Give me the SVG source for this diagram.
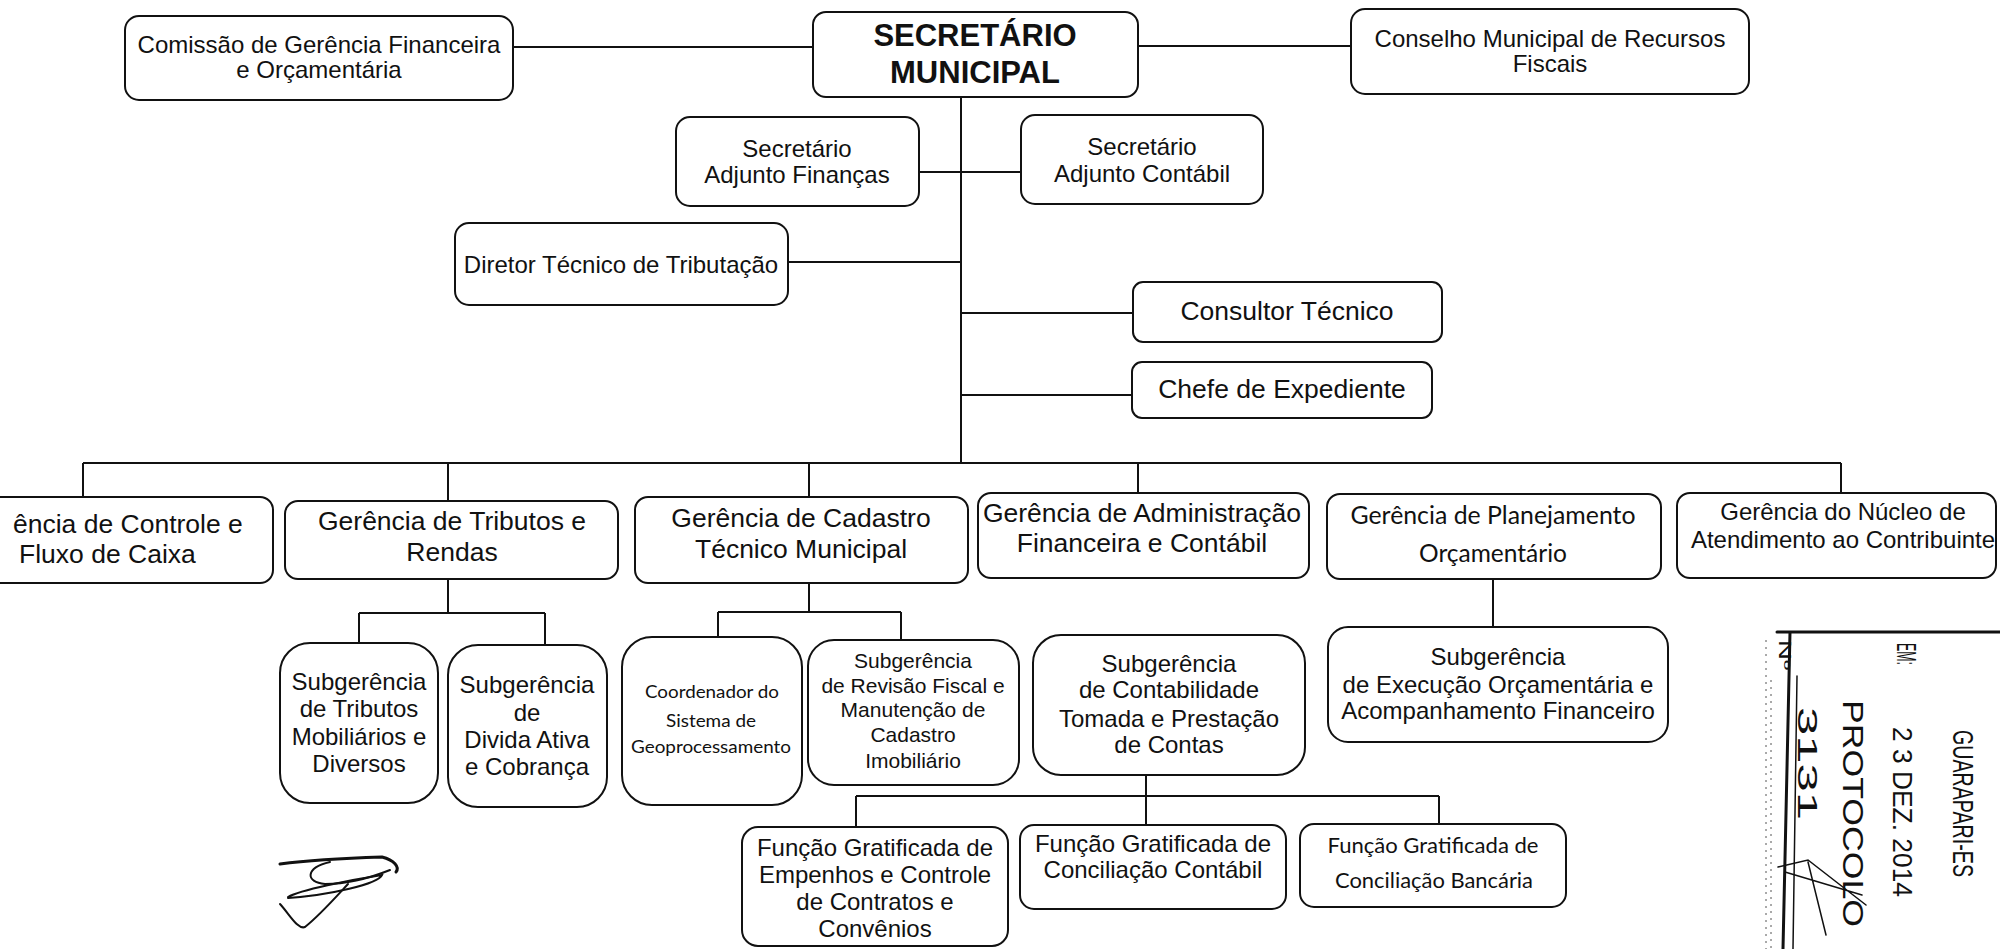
<svg xmlns="http://www.w3.org/2000/svg" width="2000" height="949" viewBox="0 0 2000 949">
<style>
.box{fill:#fff;stroke:#111;stroke-width:2}
.conn{stroke:#111;stroke-width:2;fill:none}
.t{font-family:"Liberation Sans",Arial,sans-serif;font-size:24px;fill:#111;text-anchor:middle}
.g{font-size:26.5px}
.s{font-size:21px}
.b{font-weight:bold;font-size:31px}
.c{font-family:Lato,"Open Sans",sans-serif}
.st{font-family:"Liberation Sans",Arial,sans-serif;fill:#111}
.ink{fill:none;stroke:#111;stroke-linecap:round}
</style>
<rect width="2000" height="949" fill="#fff"/>
<g id="connectors">
<path class="conn" d="M513,47H813 M1138,46H1351"/>
<path class="conn" d="M961,97V463"/>
<path class="conn" d="M919,172H1021 M788,262H961 M961,313H1133 M961,395H1132"/>
<path class="conn" d="M83,463H1841 M83,463V497 M448,463V501 M809,463V497 M1138,463V493 M1841,463V493"/>
<path class="conn" d="M448,579V613 M359,613H545 M359,613V643 M545,613V645"/>
<path class="conn" d="M809,583V612 M718,612H901 M718,612V637 M901,612V640"/>
<path class="conn" d="M1146,775V825 M856,796H1439 M856,796V827 M1439,796V824"/>
<path class="conn" d="M1493,579V627"/>
</g>
<g id="comissao"><rect class="box" x="125" y="16" width="388" height="84" rx="14"/>
<text class="t" x="319" y="53">Comissão de Gerência Financeira</text><text class="t" x="319" y="78">e Orçamentária</text></g>
<g id="secretario"><rect class="box" x="813" y="12" width="325" height="85" rx="13"/>
<text class="t b" x="975" y="46">SECRETÁRIO</text><text class="t b" x="975" y="83">MUNICIPAL</text></g>
<g id="conselho"><rect class="box" x="1351" y="9" width="398" height="85" rx="14"/>
<text class="t" x="1550" y="47">Conselho Municipal de Recursos</text><text class="t" x="1550" y="72">Fiscais</text></g>
<g id="adj-financas"><rect class="box" x="676" y="117" width="243" height="89" rx="14"/>
<text class="t" x="797" y="157">Secretário</text><text class="t" x="797" y="183">Adjunto Finanças</text></g>
<g id="adj-contabil"><rect class="box" x="1021" y="115" width="242" height="89" rx="14"/>
<text class="t" x="1142" y="155">Secretário</text><text class="t" x="1142" y="182">Adjunto Contábil</text></g>
<g id="diretor"><rect class="box" x="455" y="223" width="333" height="82" rx="14"/>
<text class="t" x="621" y="273">Diretor Técnico de Tributação</text></g>
<g id="consultor"><rect class="box" x="1133" y="282" width="309" height="60" rx="10"/>
<text class="t g" x="1287" y="320">Consultor Técnico</text></g>
<g id="chefe"><rect class="box" x="1132" y="362" width="300" height="56" rx="10"/>
<text class="t g" x="1282" y="398">Chefe de Expediente</text></g>
<g id="ger-controle"><rect class="box" x="-59" y="497" width="332" height="86" rx="13"/>
<text class="t g" x="13" y="533" style="text-anchor:start">ência de Controle e</text><text class="t g" x="19" y="563" style="text-anchor:start">Fluxo de Caixa</text></g>
<g id="ger-tributos"><rect class="box" x="285" y="501" width="333" height="78" rx="13"/>
<text class="t g" x="452" y="530">Gerência de Tributos e</text><text class="t g" x="452" y="561">Rendas</text></g>
<g id="ger-cadastro"><rect class="box" x="635" y="497" width="333" height="86" rx="13"/>
<text class="t g" x="801" y="527">Gerência de Cadastro</text><text class="t g" x="801" y="558">Técnico Municipal</text></g>
<g id="ger-admin"><rect class="box" x="978" y="493" width="331" height="85" rx="13"/>
<text class="t g" x="1142" y="522">Gerência de Administração</text><text class="t g" x="1142" y="552">Financeira e Contábil</text></g>
<g id="ger-planejamento"><rect class="box" x="1327" y="494" width="334" height="85" rx="13"/>
<text class="t c" style="font-size:25px" x="1493" y="524" textLength="285" lengthAdjust="spacingAndGlyphs">Gerência de Planejamento</text><text class="t c" style="font-size:25px" x="1493" y="562" textLength="148" lengthAdjust="spacingAndGlyphs">Orçamentário</text></g>
<g id="ger-nucleo"><rect class="box" x="1677" y="493" width="319" height="85" rx="13"/>
<text class="t" x="1843" y="520">Gerência do Núcleo de</text><text class="t" x="1843" y="548">Atendimento ao Contribuinte</text></g>
<g id="sub-tributos"><rect class="box" x="280" y="643" width="158" height="160" rx="30"/>
<text class="t" x="359" y="690">Subgerência</text><text class="t" x="359" y="717">de Tributos</text><text class="t" x="359" y="745">Mobiliários e</text><text class="t" x="359" y="772">Diversos</text></g>
<g id="sub-divida"><rect class="box" x="448" y="645" width="159" height="162" rx="30"/>
<text class="t" x="527" y="693">Subgerência</text><text class="t" x="527" y="721">de</text><text class="t" x="527" y="748">Divida Ativa</text><text class="t" x="527" y="775">e Cobrança</text></g>
<g id="coordenador"><rect class="box" x="622" y="637" width="180" height="168" rx="30"/>
<text class="t c" style="font-size:18px" x="712" y="698" textLength="134" lengthAdjust="spacingAndGlyphs">Coordenador do</text><text class="t c" style="font-size:18px" x="711" y="727" textLength="90" lengthAdjust="spacingAndGlyphs">Sistema de</text><text class="t c" style="font-size:18px" x="711" y="753" textLength="160" lengthAdjust="spacingAndGlyphs">Geoprocessamento</text></g>
<g id="sub-revisao"><rect class="box" x="808" y="640" width="211" height="145" rx="26"/>
<text class="t s" x="913" y="668">Subgerência</text><text class="t s" x="913" y="693">de Revisão Fiscal e</text><text class="t s" x="913" y="717">Manutenção de</text><text class="t s" x="913" y="742">Cadastro</text><text class="t s" x="913" y="768">Imobiliário</text></g>
<g id="sub-contabilidade"><rect class="box" x="1033" y="635" width="272" height="140" rx="28"/>
<text class="t" x="1169" y="672">Subgerência</text><text class="t" x="1169" y="698">de Contabilidade</text><text class="t" x="1169" y="727">Tomada e Prestação</text><text class="t" x="1169" y="753">de Contas</text></g>
<g id="sub-execucao"><rect class="box" x="1328" y="627" width="340" height="115" rx="20"/>
<text class="t" x="1498" y="665">Subgerência</text><text class="t" x="1498" y="693">de Execução Orçamentária e</text><text class="t" x="1498" y="719">Acompanhamento Financeiro</text></g>
<g id="fg-empenhos"><rect class="box" x="742" y="827" width="266" height="119" rx="16"/>
<text class="t" x="875" y="856">Função Gratificada de</text><text class="t" x="875" y="883">Empenhos e Controle</text><text class="t" x="875" y="910">de Contratos e</text><text class="t" x="875" y="937">Convênios</text></g>
<g id="fg-contabil"><rect class="box" x="1020" y="825" width="266" height="84" rx="14"/>
<text class="t" x="1153" y="852">Função Gratificada de</text><text class="t" x="1153" y="878">Conciliação Contábil</text></g>
<g id="fg-bancaria"><rect class="box" x="1300" y="824" width="266" height="83" rx="14"/>
<text class="t c" style="font-size:21px" x="1433" y="853" textLength="211" lengthAdjust="spacingAndGlyphs">Função Gratificada de</text><text class="t c" style="font-size:21px" x="1434" y="888" textLength="198" lengthAdjust="spacingAndGlyphs">Conciliação Bancária</text></g>
<g id="signature">
<path class="ink" stroke-width="3" d="M280,864 C310,860 350,858 382,857 C394,860 400,867 396,872"/>
<path class="ink" stroke-width="2" d="M330,862 C305,868 305,882 325,884 C345,884 370,878 390,870"/>
<path class="ink" stroke-width="2" d="M288,897 C300,890 350,880 382,875 C378,884 330,895 288,898"/>
<path class="ink" stroke-width="2" d="M280,904 C290,915 298,930 305,927 C320,915 335,898 348,884"/>
</g>
<g id="stamp">
<path class="ink" stroke-width="3" d="M1777,632H2000 M1790,632L1783,949"/>
<path class="ink" stroke-width="1.5" d="M1797,676L1793,949"/>
<path fill="none" stroke="#555" stroke-width="1" stroke-dasharray="2,5" d="M1766,640V949 M1771,680V949"/>
<text class="st" font-size="28" transform="translate(1897,643) rotate(90)" textLength="22" lengthAdjust="spacingAndGlyphs">EM:</text>
<text class="st" font-size="28" transform="translate(1893,727) rotate(90)" textLength="170" lengthAdjust="spacingAndGlyphs">2 3 DEZ. 2014</text>
<text class="st" font-size="29" transform="translate(1843,700) rotate(90)" textLength="227" lengthAdjust="spacingAndGlyphs">PROTOCOLO</text>
<text class="st" font-size="30" transform="translate(1953,730) rotate(90)" textLength="147" lengthAdjust="spacingAndGlyphs">GUARAPARI-ES</text>
<text class="st" font-size="16" transform="translate(1779,640) rotate(90)" textLength="30" lengthAdjust="spacingAndGlyphs">Nº</text>
<text class="st" font-size="28" transform="translate(1798,707) rotate(90)" textLength="113" lengthAdjust="spacingAndGlyphs">3131</text>
<path class="ink" stroke-width="1.5" d="M1778,867 L1808,860 L1866,905 M1808,862 L1826,935 M1785,872 L1862,895"/>
</g>
</svg>
